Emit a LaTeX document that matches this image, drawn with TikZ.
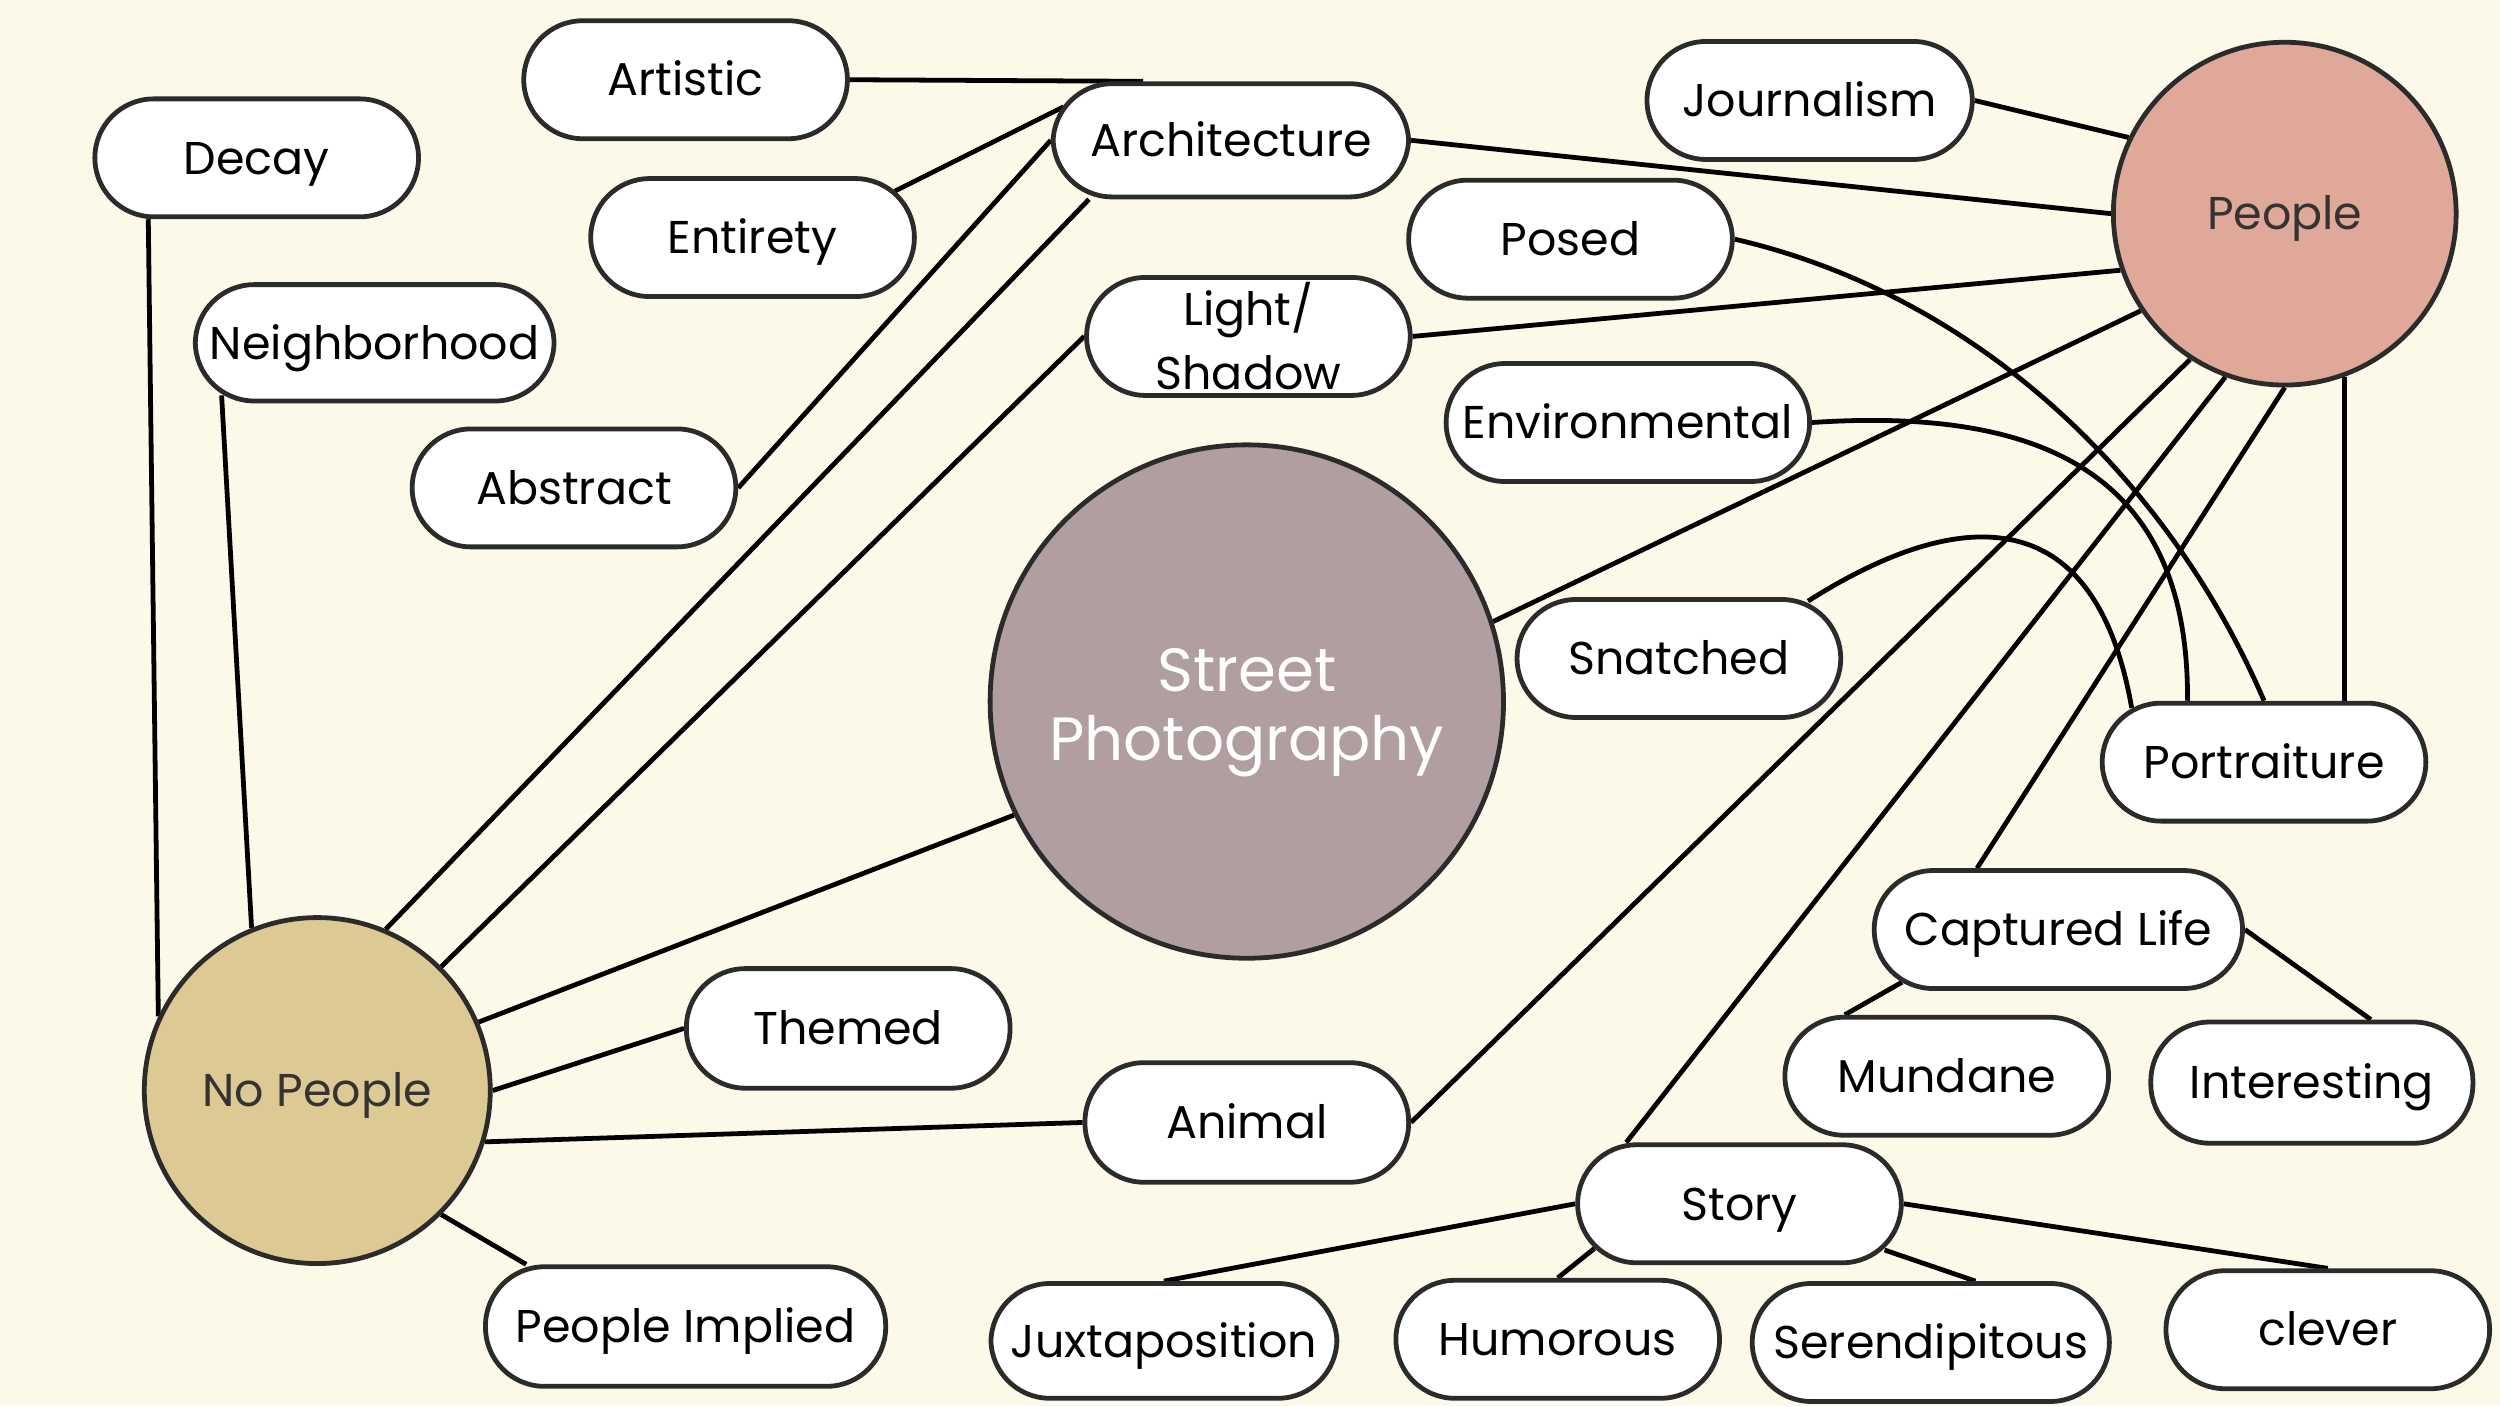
\documentclass[tikz,border=0pt]{standalone}
\usepackage{fontspec}
\setmainfont{Poppins}
\definecolor{bg}{HTML}{FCF9E9}
\definecolor{edge}{HTML}{2B2B2B}
\definecolor{spfill}{HTML}{B09EA0}
\definecolor{pfill}{HTML}{E0A899}
\definecolor{npfill}{HTML}{DCC993}
\definecolor{hubtext}{HTML}{333333}
\pgfdeclarelayer{back}
\pgfdeclarelayer{edges}
\pgfsetlayers{back,edges,main}
\tikzset{
  box/.style={draw=edge, line width=0.3mm, fill=white, rounded corners=3.7mm,
    minimum height=7.4mm, minimum width=20.3mm, inner sep=0pt,
    font=\fontsize{8.2}{11.4}\selectfont, text=black, align=center,
    text height=5.8pt, text depth=0pt},
  twoline/.style={text height=, text depth=},
  hub/.style={circle, draw=edge, line width=0.3mm, inner sep=0pt,
    font=\fontsize{8.2}{9.8}\selectfont, text=hubtext,
    text height=5.8pt, text depth=0pt},
  link/.style={line width=0.3mm, black},
}
\begin{document}
\begin{tikzpicture}[x=0.1mm,y=-0.1mm]
\begin{pgfonlayer}{back}
\fill[bg] (0,0) rectangle (1568,882);
\end{pgfonlayer}
\useasboundingbox (0,0) rectangle (1568,882);

% hubs
\node[hub, fill=spfill, minimum size=32.2mm] (sp) at (782,440) {};
\node[text=white, align=center, inner sep=0pt,
  font=\fontsize{10.9}{12.3}\selectfont] (sptext) at ([yshift=-0.7mm]sp.center) {Street\\Photography};
\node[hub, fill=pfill, minimum size=21.5mm] (people) at (1433,134) {People};
\node[hub, fill=npfill, minimum size=21.7mm] (nopeople) at (199,684) {No People};

% boxes
\node[box] (art) at (430,50) {Artistic};
\node[box] (decay) at (161,99) {Decay};
\node[box, minimum width=22.3mm, minimum height=7.1mm] (arch) at (772,88) {Architecture};
\node[box] (ent) at (472,149) {Entirety};
\node[box, minimum width=22.5mm, minimum height=7.3mm] (neigh) at (235,215) {Neighborhood};
\node[box] (abs) at (360,306) {Abstract};
\node[box, twoline] (light) at (783,211) {Light/\\Shadow};
\node[box, minimum width=20.4mm] (journ) at (1135,63) {Journalism};
\node[box] (posed) at (985,150) {Posed};
\node[box, minimum width=22.8mm] (env) at (1021,265) {Environmental};
\node[box] (snatch) at (1053,413) {Snatched};
\node[box] (port) at (1420,478) {Portraiture};
\node[box, minimum width=23.1mm] (capt) at (1291,583) {Captured Life};
\node[box] (mund) at (1221,675) {Mundane};
\node[box, minimum width=20.2mm, minimum height=7.6mm] (inter) at (1450,679) {Interesting};
\node[box] (story) at (1091,755) {Story};
\node[box, minimum width=21.7mm, minimum height=7.2mm] (juxt) at (730,841) {Juxtaposition};
\node[box] (hum) at (977,840) {Humorous};
\node[box, minimum width=22.4mm] (ser) at (1211,842) {Serendipitous};
\node[box] (clever) at (1460,834) {clever};
\node[box, minimum height=7.5mm] (themed) at (532,645) {Themed};
\node[box, minimum height=7.5mm] (animal) at (782,704) {Animal};
\node[box, minimum width=25.1mm, minimum height=7.5mm] (implied) at (430,832) {People Implied};

\begin{pgfonlayer}{edges}
% architecture cluster
\draw[link] (art.east) -- ([shift={(-55,0)}]arch.north);
\draw[link] ([shift={(89,-29)}]ent.center) -- ([shift={(-105,-21)}]arch.center);
\draw[link] (arch.west) -- (abs.east);
\draw[link] ([shift={(-89,0)}]arch.south) -- (nopeople.67);
\draw[link] (light.west) -- (nopeople.45);
% no people
\draw[link] (sp.206) -- (nopeople.23);
\draw[link] (nopeople.0) -- (themed.west);
\draw[link] (nopeople.-17) -- (animal.west);
\draw[link] (nopeople.-45) -- ([shift={(-100,0)}]implied.north);
\draw[link] ([shift={(-68,0)}]decay.south) -- (nopeople.155);
\draw[link] ([shift={(-96,33)}]neigh.center) -- (nopeople.112);
% people
\draw[link] (journ.east) -- (people.154);
\draw[link] (arch.east) -- (people.180);
\draw[link] (light.east) -- (people.199);
\draw[link] (sp.18) -- (people.214);
\draw[link] (animal.east) -- (people.237);
\draw[link] ([shift={(-71,0)}]story.north) -- (people.250);
\draw[link] ([shift={(-51,0)}]capt.north) -- (people.270);
\draw[link] (people.290) -- (people.290 |- port.north);
% curves to portraiture
\draw[link] (posed.east) .. controls (1240,185) and (1360,300) .. (port.north);
\draw[link] (env.east) .. controls (1285,255) and (1373,300) .. ([shift={(-48,0)}]port.north);
\draw[link] ([shift={(81,-36)}]snatch.center) .. controls (1200,335) and (1310,290) .. ([shift={(-83,-34)}]port.center);
% captured life
\draw[link] ([shift={(-98,33)}]capt.center) -- ([shift={(-64,0)}]mund.north);
\draw[link] (capt.east) -- ([shift={(37,0)}]inter.north);
% story
\draw[link] (story.west) -- (juxt.north);
\draw[link] ([shift={(-91,28)}]story.center) -- (hum.north);
\draw[link] ([shift={(91,29)}]story.center) -- ([shift={(28,0)}]ser.north);
\draw[link] (story.east) -- (clever.north);
\end{pgfonlayer}
\end{tikzpicture}
\end{document}
